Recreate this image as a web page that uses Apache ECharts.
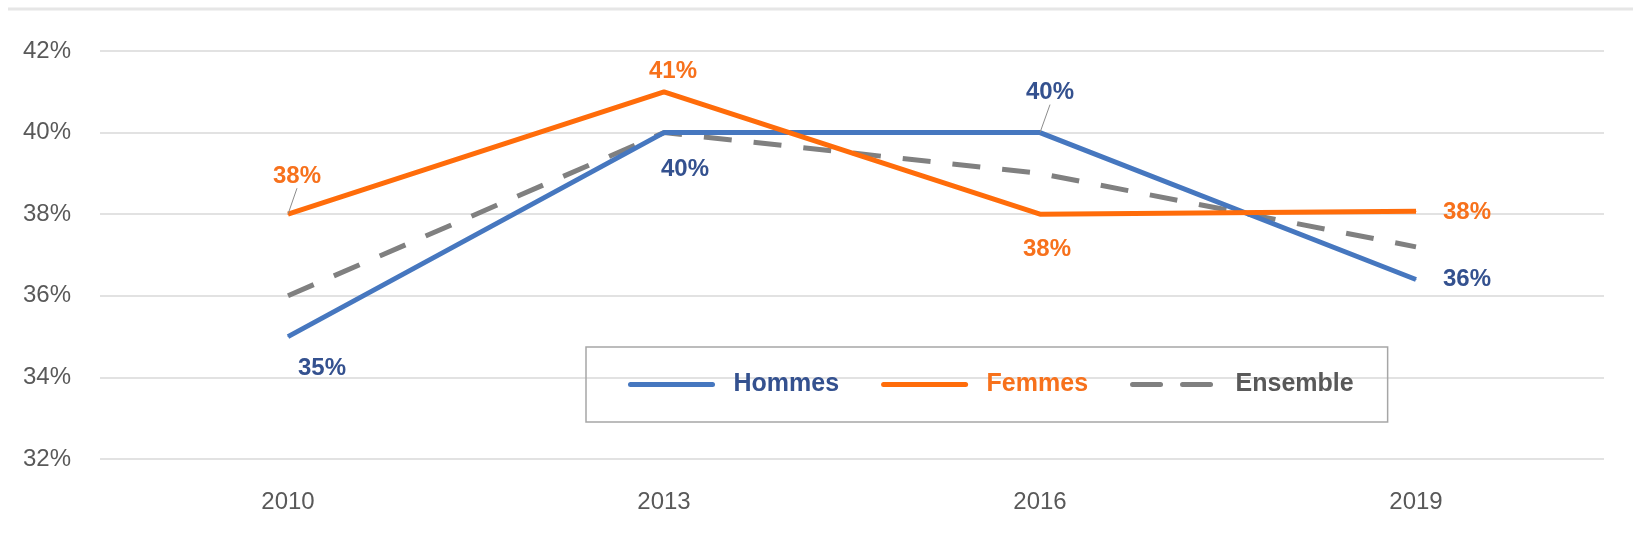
<!DOCTYPE html>
<html>
<head>
    <meta charset="utf-8">
    <title>Hommes / Femmes / Ensemble</title>
    <script src="https://cdn.jsdelivr.net/npm/echarts@6/dist/echarts.min.js"></script>
    <style>
        html, body { margin: 0; padding: 0; background: #fff; }
    </style>
</head>
<body>
<div id="chart" style="width: 1633px;height:549px;"></div>
<script type="text/javascript">
    // données
    var years = ['2010', '2013', '2016', '2019'];
    var hommes = [35.0, 40.0, 40.0, 36.4];
    var femmes = [38.0, 41.0, 38.0, 38.07];
    var ensemble = [36.0, 40.0, 39.0, 37.2];
    var yTicks = [32, 34, 36, 38, 40, 42];

    // décalage des étiquettes (px) par rapport au point, et trait de rappel
    var hommesLabelPos = [[34, 32], [21, 37], [10, -40], [51, 0]];
    var femmesLabelPos = [[9, -38], [9, -20], [7, 35], [51, 1]];
    var hommesLeader = [false, false, true, false];
    var femmesLeader = [true, false, false, false];

    var BLUE = '#4677BF', BLUE_TXT = '#34518F';
    var ORANGE = '#FF6C0A', ORANGE_TXT = '#F7711C';
    var GREY = '#808080', GREY_TXT = '#595959';
    var FONT = 'Liberation Sans';

    var chart = echarts.init(document.getElementById('chart'));

    function pct(p) { return Math.round(p.value) + '%'; }

    // trait de rappel seulement sur certains points
    function withLeader(values, leader) {
        return values.map(function (v, i) {
            return { value: v, labelLine: { show: leader[i] } };
        });
    }
    function moveLabel(pos) {
        return function (p) {
            return { dx: pos[p.dataIndex][0], dy: pos[p.dataIndex][1] };
        };
    }

    var option = {
        backgroundColor: '#fff',
        animation: false,
        textStyle: { fontFamily: FONT },
        graphic: [{
            type: 'line',
            shape: { x1: 8, y1: 9, x2: 1633, y2: 9 },
            style: { stroke: '#E6E6E6', lineWidth: 3 }
        }],
        grid: {
            left: 100, right: 29, top: 51, bottom: 90,
            containLabel: false,
            outerBoundsMode: 'none'
        },
        legend: {
            left: 586, top: 347,
            padding: [25, 34, 25, 42],
            borderColor: '#A6A6A6',
            borderWidth: 1.5,
            itemWidth: 82,
            itemHeight: 6,
            itemGap: 42,
            itemStyle: { opacity: 0 },
            lineStyle: { width: 5, cap: 'round' },
            data: [
                { name: 'Hommes', textStyle: { color: BLUE_TXT } },
                { name: 'Femmes', textStyle: { color: ORANGE_TXT } },
                { name: 'Ensemble', textStyle: { color: GREY_TXT } }
            ],
            textStyle: {
                fontFamily: FONT, fontSize: 25, fontWeight: 'bold',
                padding: [0, 0, 0, 16]
            }
        },
        xAxis: {
            type: 'category',
            data: years,
            boundaryGap: true,
            axisLine: { show: false },
            axisTick: { show: false },
            axisLabel: { color: GREY_TXT, fontSize: 24, fontFamily: FONT, margin: 31 }
        },
        yAxis: {
            type: 'value',
            min: yTicks[0],
            max: yTicks[yTicks.length - 1],
            interval: 2,
            axisLine: { show: false },
            axisTick: { show: false },
            axisLabel: { color: GREY_TXT, fontSize: 24, fontFamily: FONT, margin: 29, formatter: '{value}%' },
            splitLine: { lineStyle: { color: '#D9D9D9', width: 1.5 } }
        },
        series: [
            {
                name: 'Hommes',
                type: 'line',
                data: withLeader(hommes, hommesLeader),
                symbol: 'circle',
                symbolSize: 1,
                itemStyle: { color: BLUE },
                lineStyle: { color: BLUE, width: 5 },
                z: 3,
                label: {
                    show: true, position: 'inside', formatter: pct,
                    color: BLUE_TXT, fontSize: 24, fontWeight: 'bold', fontFamily: FONT
                },
                labelLine: { show: true, lineStyle: { color: '#8C8C8C', width: 1 } },
                labelLayout: moveLabel(hommesLabelPos)
            },
            {
                name: 'Femmes',
                type: 'line',
                data: withLeader(femmes, femmesLeader),
                symbol: 'circle',
                symbolSize: 1,
                itemStyle: { color: ORANGE },
                lineStyle: { color: ORANGE, width: 5 },
                z: 4,
                label: {
                    show: true, position: 'inside', formatter: pct,
                    color: ORANGE_TXT, fontSize: 24, fontWeight: 'bold', fontFamily: FONT
                },
                labelLine: { show: true, lineStyle: { color: '#8C8C8C', width: 1 } },
                labelLayout: moveLabel(femmesLabelPos)
            },
            {
                name: 'Ensemble',
                type: 'line',
                data: ensemble,
                symbol: 'none',
                itemStyle: { color: GREY },
                lineStyle: { color: GREY, width: 5, type: [28, 22] },
                z: 2
            }
        ]
    };
    chart.setOption(option);
</script>
</body>
</html>
